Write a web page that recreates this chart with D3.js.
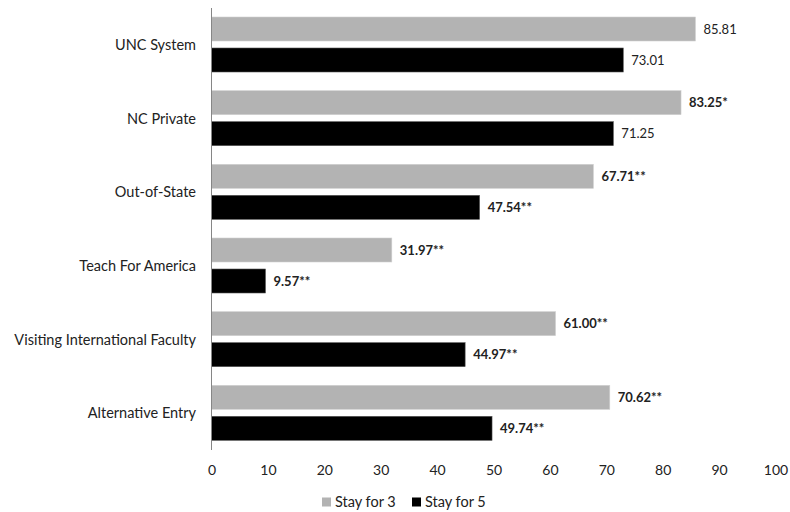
<!DOCTYPE html>
<html><head><meta charset="utf-8">
<script src="https://cdn.jsdelivr.net/npm/d3@7"></script>
<style>body{margin:0;background:#fff}svg{display:block}</style>
</head><body><svg id="c" width="790" height="512"></svg>
<script>
const categories = ["UNC System","NC Private","Out-of-State","Teach For America","Visiting International Faculty","Alternative Entry"];
const stay3 = [85.81, 83.25, 67.71, 31.97, 61.00, 70.62];
const stay5 = [73.01, 71.25, 47.54, 9.57, 44.97, 49.74];
const sig3 = ["", "*", "**", "**", "**", "**"];
const sig5 = ["", "", "**", "**", "**", "**"];
const seriesNames = ["Stay for 3", "Stay for 5"];
const colors = ["#b3b3b3", "#000000"];
const xTicks = [0,10,20,30,40,50,60,70,80,90,100];

const font = "Lato, 'Open Sans', sans-serif";
const svg = d3.select("#c");
const x = d3.scaleLinear().domain([0,100]).range([211.5, 775.5]);
const y = d3.scaleBand().domain(categories).range([8, 450]).paddingInner(0).paddingOuter(0);
const sub = d3.scaleBand().domain([0,1]).range([9, 64]).paddingInner(7/31);

const series = [stay3, stay5];
const sigs = [sig3, sig5];
series.forEach((vals, si) => {
  const g = svg.append("g");
  g.selectAll("rect").data(vals).join("rect")
    .attr("x", x(0))
    .attr("y", (d,i) => y(categories[i]) + sub(si))
    .attr("width", d => x(d) - x(0))
    .attr("height", sub.bandwidth())
    .attr("fill", colors[si])
    .attr("stroke", si===0 ? "#d0d0d0" : "#555")
    .attr("stroke-width", 0.6);
  g.selectAll("text").data(vals).join("text")
    .attr("x", d => x(d) + 8)
    .attr("y", (d,i) => y(categories[i]) + sub(si) + sub.bandwidth()/2)
    .attr("dy", "0.35em")
    .attr("font-family", font)
    .attr("font-size", 13)
    .attr("font-weight", (d,i) => sigs[si][i] ? "bold" : "normal")
    .attr("fill", "#222")
    .text((d,i) => d.toFixed(2) + sigs[si][i]);
});

// category labels
svg.append("g").selectAll("text").data(categories).join("text")
  .attr("x", 196)
  .attr("y", d => y(d) + y.bandwidth()/2)
  .attr("dy", "0.35em")
  .attr("text-anchor", "end")
  .attr("font-family", font)
  .attr("font-size", 14.5)
  .attr("fill", "#222")
  .text(d => d);

// vertical axis line
svg.append("line").attr("x1", x(0)).attr("x2", x(0)).attr("y1", 8).attr("y2", 450)
  .attr("stroke", "#868686").attr("stroke-width", 1);

// x axis labels
const xa = svg.append("g").attr("transform", "translate(0,470)")
  .call(d3.axisBottom(x).tickValues(xTicks).tickSize(0).tickPadding(0).tickFormat(d3.format("d")));
xa.select(".domain").remove();
xa.selectAll("text").attr("font-family", font).attr("font-size", 14).attr("fill", "#222").attr("dy", "0.35em");

// legend
const legX = [322, 412];
const leg = svg.append("g").selectAll("g").data(seriesNames).join("g")
  .attr("transform", (d,i) => `translate(${legX[i]},502)`);
leg.append("rect").attr("x", 0).attr("y", -4.5).attr("width", 9).attr("height", 9)
  .attr("fill", (d,i) => colors[i]);
leg.append("text").attr("x", 13).attr("dy", "0.35em")
  .attr("font-family", font).attr("font-size", 14.5).attr("fill", "#222").text(d => d);
</script></body></html>
